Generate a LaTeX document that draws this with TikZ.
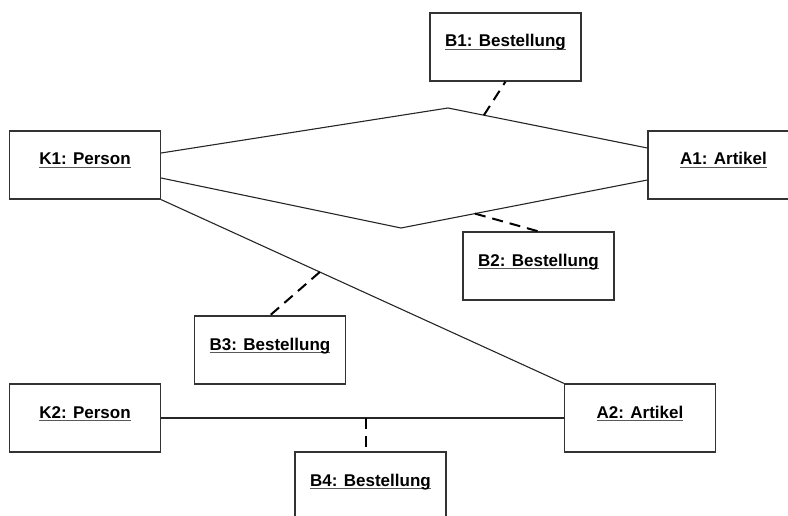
\documentclass[tikz,border=0pt]{standalone}
\usepackage{fontspec}
\setmainfont{Liberation Sans}
\newcommand{\objlabel}[1]{\setbox0\hbox{#1}\rlap{\color{black!65}\vrule width\wd0 height -2.2pt depth 3.4pt}\box0}

\begin{document}
\begin{tikzpicture}[line cap=butt,line join=miter,x=1pt,y=-1pt,
  obj/.style={draw=black!80,line width=1.2pt,minimum width=151pt,minimum height=68pt,
    inner sep=0pt,text height=0pt,text depth=0pt,font=\fontsize{17}{20}\selectfont\bfseries},
  link/.style={draw=black!85,line width=1.1pt},
  attach/.style={draw=black,line width=2pt,dash pattern=on 11pt off 7pt}]
\useasboundingbox (0,0) rectangle (788,516);
\clip (0,0) rectangle (788,516);
% objects
\node[obj] (k1) at (85,165) {\objlabel{K1: Person}};
\node[obj] (a1) at (723.5,165) {\objlabel{A1: Artikel}};
\node[obj] (b1) at (505.5,47) {\objlabel{B1: Bestellung}};
\node[obj] (b2) at (538.5,266) {\objlabel{B2: Bestellung}};
\node[obj] (b3) at (270,350) {\objlabel{B3: Bestellung}};
\node[obj] (k2) at (85,418) {\objlabel{K2: Person}};
\node[obj] (a2) at (640,418) {\objlabel{A2: Artikel}};
\node[obj] (b4) at (370.5,486) {\objlabel{B4: Bestellung}};
% links
\coordinate (top) at (448,108);
\coordinate (bot) at (401,228);
\draw[link] ([yshift=12pt]k1.east) -- (top) -- coordinate[pos=0.18] (m1) ([yshift=17pt]a1.west);
\draw[link] ([yshift=-13pt]k1.east) -- (bot) -- coordinate[pos=0.3] (m2) ([yshift=-15pt]a1.west);
\draw[link] (k1.south east) -- coordinate[pos=0.394] (m3) (a2.north west);
\draw[link] (k2.east) -- coordinate[pos=0.509] (m4) (a2.west);
% association objects
\draw[attach] (m1) -- (b1.south);
\draw[attach] (m2) -- (b2.north);
\draw[attach] (m3) -- (b3.north);
\draw[attach] (m4) -- (m4 |- b4.north);
\end{tikzpicture}
\end{document}
